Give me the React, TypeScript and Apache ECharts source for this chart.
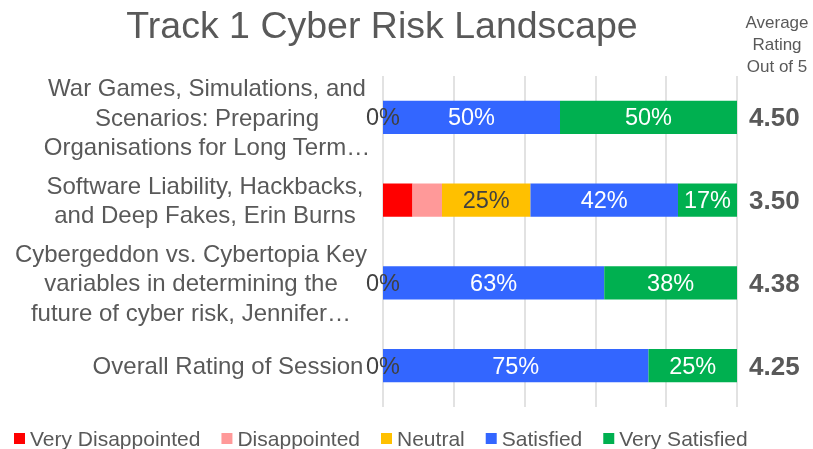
import React, { useEffect, useRef } from "react";
import * as echarts from "echarts";

const categories = [
  "War Games, Simulations, and\nScenarios: Preparing\nOrganisations for Long Term…",
  "Software Liability, Hackbacks,\nand Deep Fakes, Erin Burns",
  "Cybergeddon vs. Cybertopia Key\nvariables in determining the\nfuture of cyber risk, Jennifer…",
  "Overall Rating of Session",
];
const seriesNames = ["Very Disappointed", "Disappointed", "Neutral", "Satisfied", "Very Satisfied"];
const veryDisappointed = [0, 8.33, 0, 0];
const disappointed = [0, 8.33, 0, 0];
const neutral = [0, 25, 0, 0];
const satisfied = [50, 41.67, 62.5, 75];
const verySatisfied = [50, 16.67, 37.5, 25];
const averages = [4.5, 3.5, 4.38, 4.25];
const xTicks = [0, 20, 40, 60, 80, 100];

const colors = ["#FF0000", "#FF9999", "#FFC000", "#3366FF", "#00B050"];
const labelColors = [null, null, "#404040", "#FFFFFF", "#FFFFFF"];
const FONT = "'Liberation Sans', Arial, sans-serif";
// style-only horizontal nudges for the wrapped category labels (px, + = right)
const labelNudge = [2, 0, -14, 23];

export default function App() {
  const ref = useRef<HTMLDivElement>(null);
  useEffect(() => {
    if (!ref.current) return;
    const chart = echarts.init(ref.current, undefined, { renderer: "svg" });
    const values = [veryDisappointed, disappointed, neutral, satisfied, verySatisfied];
    const rich: Record<string, any> = {};
    labelNudge.forEach((n, i) => {
      rich["r" + i] = {
        fontFamily: FONT,
        fontSize: 24,
        lineHeight: 29.5,
        color: "#595959",
        padding: n >= 0 ? [0, 0, 0, 2 * n] : [0, -2 * n, 0, 0],
      };
    });
    chart.setOption({
      animation: false,
      textStyle: { fontFamily: FONT },
      title: [
        {
          text: "Track 1 Cyber Risk Landscape",
          left: 377,
          top: 1,
          textAlign: "center",
          textStyle: { fontFamily: FONT, fontSize: 37.5, fontWeight: "normal", color: "#595959" },
        },
        {
          text: "Average\nRating\nOut of 5",
          left: 772,
          top: 6,
          textAlign: "center",
          textStyle: { fontFamily: FONT, fontSize: 17, lineHeight: 22, fontWeight: "normal", color: "#595959" },
        },
      ],
      legend: {
        data: seriesNames,
        left: 9,
        top: 423,
        icon: "rect",
        itemWidth: 11,
        itemHeight: 11,
        itemGap: 21,
        textStyle: { fontFamily: FONT, fontSize: 21, color: "#595959" },
      },
      grid: { left: 383, right: 76, top: 76, bottom: 42 },
      xAxis: {
        type: "value",
        min: xTicks[0],
        max: xTicks[xTicks.length - 1],
        interval: xTicks[1] - xTicks[0],
        axisLabel: { show: false },
        axisLine: { show: false },
        axisTick: { show: false },
        splitLine: { show: true, lineStyle: { color: "#D9D9D9", width: 1.5 } },
      },
      yAxis: [
        {
          type: "category",
          data: categories,
          inverse: true,
          axisLine: { show: false },
          axisTick: { show: false },
          axisLabel: {
            align: "center",
            margin: 178,
            fontFamily: FONT,
            fontSize: 24,
            lineHeight: 29.5,
            color: "#595959",
            formatter: (value: string, index: number) =>
              value
                .split("\n")
                .map((line) => `{r${index}|${line}}`)
                .join("\n"),
            rich,
          },
        },
        {
          type: "category",
          data: averages.map((v) => v.toFixed(2)),
          inverse: true,
          position: "right",
          axisLine: { show: false },
          axisTick: { show: false },
          axisLabel: {
            align: "left",
            margin: 12,
            fontFamily: FONT,
            fontSize: 26,
            fontWeight: "bold",
            color: "#595959",
          },
        },
      ],
      series: seriesNames.map((name, i) => ({
        name,
        type: "bar",
        stack: "total",
        barWidth: "40%",
        data: values[i],
        itemStyle: { color: colors[i] },
        label: {
          show: labelColors[i] !== null,
          position: "inside",
          formatter: (p: any) => `${Math.round(p.value)}%`,
          fontFamily: FONT,
          fontSize: 23.5,
          color: labelColors[i] || "#fff",
        },
      })),
    });
    return () => chart.dispose();
  }, []);
  return <div ref={ref} style={{ position: "fixed", left: 0, top: 0, width: 813, height: 449 }} />;
}
